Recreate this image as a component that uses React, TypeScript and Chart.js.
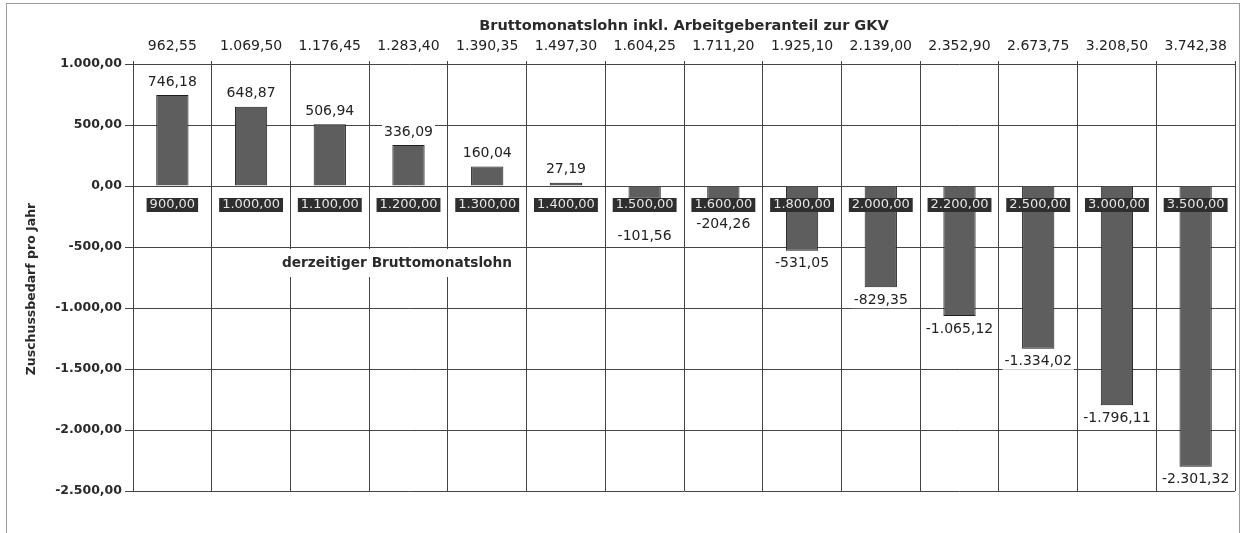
import React, { useEffect, useRef } from 'react';
import { Chart, registerables } from 'chart.js';

Chart.register(...registerables);

// ---- data ----
const currentWages = ['900,00', '1.000,00', '1.100,00', '1.200,00', '1.300,00', '1.400,00', '1.500,00', '1.600,00', '1.800,00', '2.000,00', '2.200,00', '2.500,00', '3.000,00', '3.500,00'];
const grossWithEmployerShare = ['962,55', '1.069,50', '1.176,45', '1.283,40', '1.390,35', '1.497,30', '1.604,25', '1.711,20', '1.925,10', '2.139,00', '2.352,90', '2.673,75', '3.208,50', '3.742,38'];
const subsidyNeed = [746.18, 648.87, 506.94, 336.09, 160.04, 27.19, -101.56, -204.26, -531.05, -829.35, -1065.12, -1334.02, -1796.11, -2301.32];
const yTickValues = [1000, 500, 0, -500, -1000, -1500, -2000, -2500];

const topTitle = 'Bruttomonatslohn inkl. Arbeitgeberanteil zur GKV';
const yTitle = 'Zuschussbedarf pro Jahr';
const innerTitle = 'derzeitiger Bruttomonatslohn';

function fmtDE(v: number): string {
  const neg = v < 0;
  const [int, dec] = Math.abs(v).toFixed(2).split('.');
  const grouped = int.replace(/\B(?=(\d{3})+(?!\d))/g, '.');
  return (neg ? '-' : '') + grouped + ',' + dec;
}

const FONT = '"DejaVu Sans", "Liberation Sans", Arial, sans-serif';
const GRID = '#454545';

const annotations = {
  id: 'annotations',
  afterDatasetsDraw(chart: any) {
    const ctx = chart.ctx as CanvasRenderingContext2D;
    const meta = chart.getDatasetMeta(0);
    const ys = chart.scales.y;
    const zero = ys.getPixelForValue(0);
    const area = chart.chartArea;
    ctx.save();
    ctx.font = '14px ' + FONT;
    ctx.textAlign = 'center';
    ctx.textBaseline = 'middle';
    meta.data.forEach((bar: any, i: number) => {
      const v = subsidyNeed[i];
      const txt = fmtDE(v);
      let cy: number;
      if (v >= 0) {
        cy = bar.y - 13;
      } else {
        cy = bar.y + 13;
        if (cy - 8 < zero + 26) cy = zero + 50;
      }
      const w = ctx.measureText(txt).width;
      ctx.fillStyle = '#ffffff';
      ctx.fillRect(bar.x - w / 2 - 2, cy - 8, w + 4, 16);
      ctx.fillStyle = '#222222';
      ctx.fillText(txt, bar.x, cy);
    });
    ctx.font = 'bold 13.7px ' + FONT;
    const tw = ctx.measureText(innerTitle).width;
    const cx = area.left + 264;
    const cy2 = zero + 77;
    ctx.fillStyle = '#ffffff';
    ctx.fillRect(cx - tw / 2 - 6, cy2 - 14, tw + 12, 28);
    ctx.fillStyle = '#2a2a2a';
    ctx.fillText(innerTitle, cx, cy2);
    ctx.restore();
  },
  afterDraw(chart: any) {
    const ctx = chart.ctx as CanvasRenderingContext2D;
    ctx.save();
    ctx.translate(32, 289);
    ctx.rotate(-Math.PI / 2);
    ctx.font = 'bold 12.5px ' + FONT;
    ctx.fillStyle = '#2a2a2a';
    ctx.textAlign = 'center';
    ctx.textBaseline = 'middle';
    ctx.fillText(yTitle, 0, 0);
    ctx.restore();
  },
};

export default function App() {
  const ref = useRef<HTMLCanvasElement | null>(null);

  useEffect(() => {
    document.body.style.margin = '0';
    if (!ref.current) return;
    const chart = new Chart(ref.current, {
      type: 'bar',
      data: {
        labels: currentWages,
        datasets: [
          {
            data: subsidyNeed,
            backgroundColor: '#5e5e5e',
            borderColor: '#1e1e1e',
            borderWidth: 1,
            barPercentage: 0.41,
            categoryPercentage: 1,
            xAxisID: 'x',
            yAxisID: 'y',
          },
        ],
      },
      options: {
        animation: false,
        responsive: false,
        events: [],
        layout: { padding: { left: 0, right: 11, top: 0, bottom: 42 } },
        plugins: {
          legend: { display: false },
          tooltip: { enabled: false },
        },
        scales: {
          x: {
            type: 'category',
            position: { y: 0 } as any,
            offset: true,
            grid: { display: true, offset: true, color: GRID, lineWidth: 1, drawTicks: false },
            border: { display: false },
            ticks: {
              autoSkip: false,
              maxRotation: 0,
              minRotation: 0,
              padding: 12,
              color: '#e6e6e6',
              font: { family: FONT, size: 13, lineHeight: 1 },
              showLabelBackdrop: true,
              backdropColor: '#2e2e2e',
              backdropPadding: { top: 0, bottom: 1, left: 3, right: 3 },
              z: 1,
            } as any,
          },
          x2: {
            type: 'category',
            labels: grossWithEmployerShare,
            position: 'top',
            offset: true,
            grid: { display: true, offset: true, drawOnChartArea: false, color: GRID, tickLength: 3 },
            border: { display: false },
            ticks: {
              autoSkip: false,
              maxRotation: 0,
              minRotation: 0,
              padding: 6,
              color: '#222222',
              font: { family: FONT, size: 14 },
            },
            title: {
              display: true,
              text: topTitle,
              color: '#2a2a2a',
              font: { family: FONT, size: 14.5, weight: 'bold' },
              padding: { top: 18, bottom: 0 },
            },
            afterFit: (s: any) => {
              s.height = 64;
            },
          },
          y: {
            type: 'linear',
            min: yTickValues[yTickValues.length - 1],
            max: yTickValues[0],
            afterBuildTicks: (s: any) => {
              s.ticks = yTickValues.map((v) => ({ value: v }));
            },
            grid: { color: GRID, lineWidth: 1, tickLength: 8 },
            border: { display: true, color: GRID },
            ticks: {
              padding: 3,
              color: '#2a2a2a',
              font: { family: FONT, size: 12.5, weight: 'bold' },
              callback: (v: any) => fmtDE(Number(v)),
            },
            afterFit: (s: any) => {
              s.width = 133;
            },
          },
        },
      },
      plugins: [annotations],
    });
    return () => chart.destroy();
  }, []);

  return (
    <div style={{ position: 'relative', width: 1246, height: 533, overflow: 'hidden', background: '#fff' }}>
      <div
        style={{
          position: 'absolute',
          left: 6,
          top: 3,
          width: 1234,
          height: 600,
          border: '1px solid #9a9a9a',
          boxSizing: 'border-box',
        }}
      />
      <canvas ref={ref} width={1246} height={533} style={{ position: 'absolute', left: 0, top: 0 }} />
    </div>
  );
}
